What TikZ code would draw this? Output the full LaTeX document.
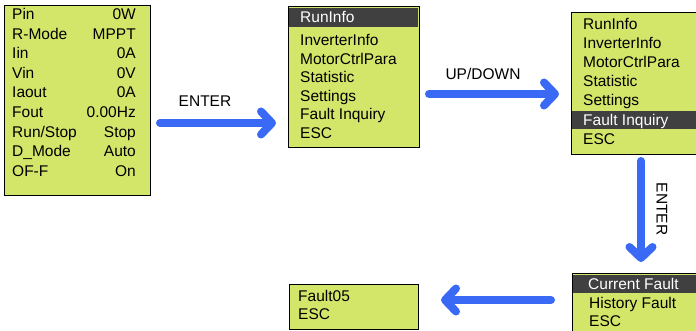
\documentclass[tikz,border=0pt]{standalone}
\usepackage{fontspec}
\setmainfont{Liberation Sans}
\usetikzlibrary{arrows.meta}
\definecolor{lcdgreen}{RGB}{212,230,106}
\definecolor{bargray}{RGB}{64,64,64}
\definecolor{keyblue}{RGB}{58,106,245}

\begin{document}
\begin{tikzpicture}[x=1pt,y=-1pt,
  screen/.style={draw=black,line width=1pt,fill=lcdgreen,inner sep=0pt,anchor=north west},
  item/.style={anchor=west,inner sep=0pt,text height=11pt,text depth=0pt,font=\fontsize{15.5}{18}\selectfont},
  val/.style={item,anchor=east},
  selitem/.style={item,text=white},
  key/.style={draw=keyblue,line width=8pt,line cap=round,-{Straight Barb[length=11pt,width=23pt,round]}},
  keylabel/.style={inner sep=0pt,font=\fontsize{15.5}{18}\selectfont}]
  \useasboundingbox (0,0) rectangle (696,331);
  % status screen
  \node[screen,minimum width=146pt,minimum height=190pt] (status) at (4,5) {};
  \foreach \lab/\v [count=\i] in {Pin/0W,R-Mode/MPPT,Iin/0A,Vin/0V,Iaout/0A,Fout/0.00Hz,{Run/Stop}/Stop,D\_Mode/Auto,OF-F/On}{
    \node[item] (s\i) at (12,{14+19.6*(\i-1)}) {\lab};
    \node[val] (v\i) at (136,{14+19.6*(\i-1)}) {\v};
  }
  % main menu
  \node[screen,minimum width=131pt,minimum height=141pt] (menu) at (288,6) {};
  \fill[bargray] (289,8) rectangle (418,27);
  \node[selitem] (m1) at (300,17.5) {RunInfo};
  \foreach \lab [count=\i from 2] in {InverterInfo,MotorCtrlPara,Statistic,Settings,Fault Inquiry,ESC}
    \node[item] (m\i) at (300,{40+18.6*(\i-2)}) {\lab};
  % menu with fault inquiry selected
  \node[screen,minimum width=132pt,minimum height=142pt] (menusel) at (571,12) {};
  \fill[bargray] (572,111) rectangle (702,129);
  \foreach \lab [count=\i] in {RunInfo,InverterInfo,MotorCtrlPara,Statistic,Settings}
    \node[item] (n\i) at (583,{24.5+19*(\i-1)}) {\lab};
  \node[selitem] (n6) at (583,120) {Fault Inquiry};
  \node[item] (n7) at (583,139) {ESC};
  % fault menu
  \node[screen,minimum width=132pt,minimum height=64pt] (fault) at (572,273) {};
  \fill[bargray] (573,275) rectangle (702,293);
  \node[selitem] (f1) at (588,284) {Current Fault};
  \node[item] (f2) at (589,303) {History Fault};
  \node[item] (f3) at (589,321) {ESC};
  % fault record
  \node[screen,minimum width=129pt,minimum height=45pt] (record) at (289,284) {};
  \node[item] (r1) at (298,296) {Fault05};
  \node[item] (r2) at (298,314) {ESC};
  % keys
  \coordinate (k1s) at (160,123);
  \coordinate (k1e) at (276,123);
  \coordinate (k2s) at (429,94);
  \coordinate (k2e) at (559,94);
  \coordinate (k3s) at (641,161);
  \coordinate (k3e) at (641,262);
  \coordinate (k4s) at (551,300);
  \coordinate (k4e) at (441,300);
  \draw[key] (k1s) -- (k1e);
  \draw[key] (k2s) -- (k2e);
  \draw[key] (k3s) -- (k3e);
  \draw[key] (k4s) -- (k4e);
  \node[keylabel] (l1) at (205,101) {ENTER};
  \node[keylabel] (l2) at (483,74) {UP/DOWN};
  \node[keylabel,rotate=-90] (l3) at (662,209) {ENTER};
\end{tikzpicture}
\end{document}
